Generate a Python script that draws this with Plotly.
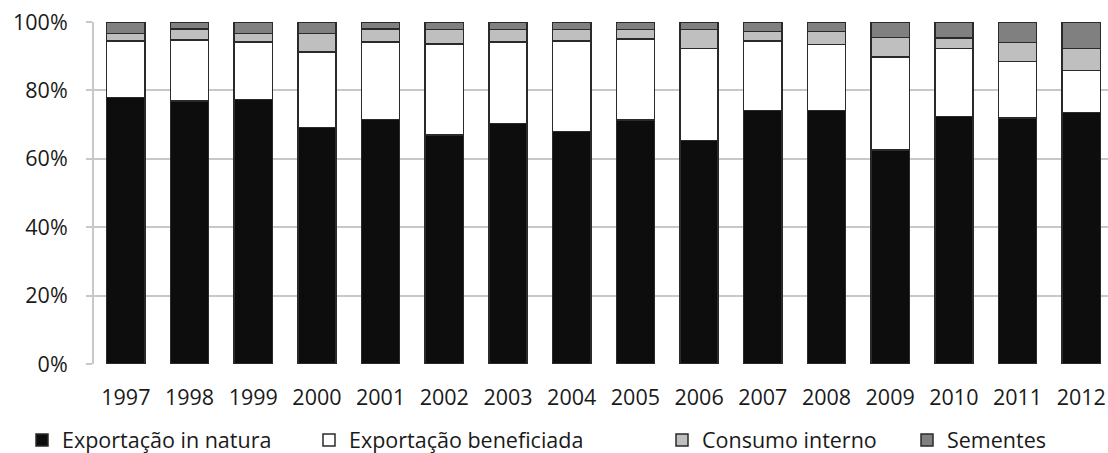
import plotly.graph_objects as go

years = ["1997", "1998", "1999", "2000", "2001", "2002", "2003", "2004",
         "2005", "2006", "2007", "2008", "2009", "2010", "2011", "2012"]

in_natura = [77.9, 76.9, 77.4, 69.2, 71.5, 67.0, 70.3, 68.0,
             71.3, 65.3, 74.1, 74.1, 62.6, 72.3, 71.9, 73.5]
beneficiada = [16.5, 17.8, 16.7, 22.1, 22.6, 26.5, 23.8, 26.5,
               23.8, 27.0, 20.4, 19.3, 27.1, 19.9, 16.5, 12.3]
consumo = [2.3, 3.2, 2.6, 5.4, 3.8, 4.3, 3.7, 3.3,
           2.7, 5.5, 2.7, 3.8, 5.8, 3.1, 5.6, 6.4]
sementes = [3.3, 2.1, 3.3, 3.3, 2.1, 2.2, 2.2, 2.2,
            2.2, 2.2, 2.8, 2.8, 4.5, 4.7, 6.0, 7.8]

y_tick_vals = [0, 20, 40, 60, 80, 100]
y_tick_text = ["0%", "20%", "40%", "60%", "80%", "100%"]

series_names = ["Exportação in natura", "Exportação beneficiada",
                "Consumo interno", "Sementes"]
series_values = [in_natura, beneficiada, consumo, sementes]
series_colors = ["#0d0d0d", "#ffffff", "#bfbfbf", "#808080"]

FONT = "Open Sans"
FS = 21.5
W, H = 1108, 453
L, R, T = 94, 0, 22
plot_bottom = 364
B = H - plot_bottom
plot_w = W - L - R
plot_h = plot_bottom - T

legend_text_px = [63, 350, 703, 948]
legend_ids = ["legend", "legend2", "legend3", "legend4"]
legend_mid_px = 440

fig = go.Figure()
for name, vals, col, lid in zip(series_names, series_values, series_colors, legend_ids):
    fig.add_trace(go.Bar(
        x=years, y=vals, name=name, legend=lid,
        marker=dict(color=col, line=dict(color="#2a2a2a", width=1.5)),
    ))

legend_layout = {}
for lid, tx in zip(legend_ids, legend_text_px):
    legend_layout[lid] = dict(
        x=(tx - 41 - L) / plot_w, xanchor="left",
        y=-(legend_mid_px - plot_bottom) / plot_h, yanchor="middle",
        orientation="h", bgcolor="rgba(0,0,0,0)",
        font=dict(family=FONT, size=FS, color="#1a1a1a"),
        itemclick=False, itemdoubleclick=False,
    )

fig.update_layout(
    width=W, height=H,
    margin=dict(l=L, r=R, t=T, b=B, autoexpand=False),
    barmode="stack", bargap=0.4,
    plot_bgcolor="white", paper_bgcolor="white",
    font=dict(family=FONT, size=FS, color="#1a1a1a"),
    showlegend=True,
    **legend_layout,
)
fig.update_xaxes(
    range=[-0.5, 15.42], automargin=False,
    showgrid=False, showline=False, ticks="",
    tickfont=dict(family=FONT, size=FS, color="#1a1a1a"),
    ticklabelstandoff=18, ticklabeloverflow="allow",
)
fig.update_yaxes(
    range=[0, 100], tickvals=y_tick_vals, ticktext=y_tick_text,
    automargin=False,
    showgrid=True, gridcolor="#c8c8c8", gridwidth=2,
    showline=True, linecolor="#c8c8c8", linewidth=2,
    ticks="outside", ticklen=6, tickcolor="#c8c8c8", tickwidth=2,
    tickfont=dict(family=FONT, size=FS, color="#1a1a1a"),
    ticklabelstandoff=14, zeroline=False, ticklabeloverflow="allow",
)

fig.write_html(
    "out.html",
    config={"displayModeBar": False},
    post_script="document.body.style.margin='0';document.body.style.overflow='hidden';",
)
